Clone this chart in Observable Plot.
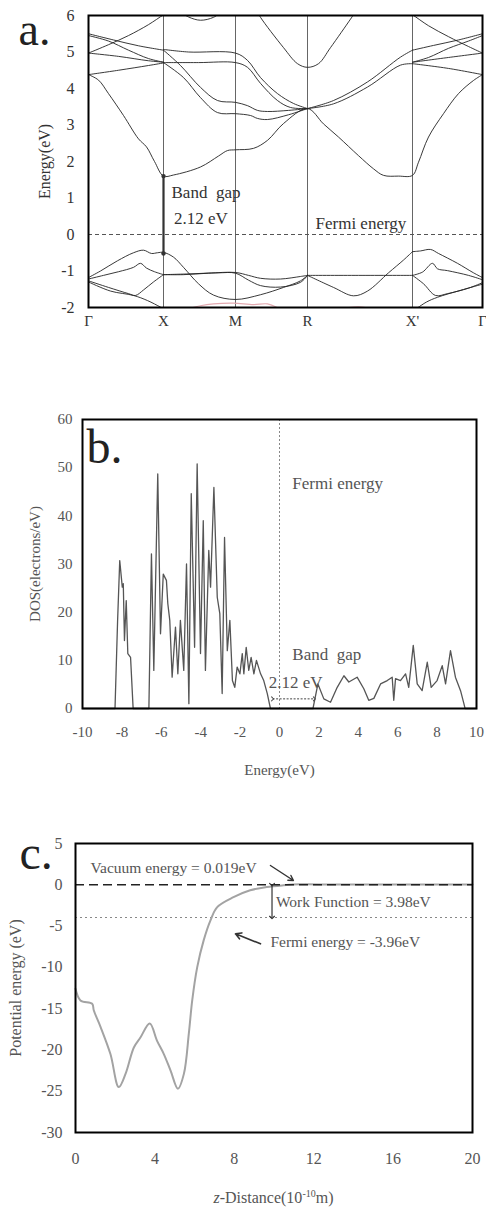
<!DOCTYPE html>
<html>
<head>
<meta charset="utf-8">
<script src="https://cdn.jsdelivr.net/npm/d3@7"></script>
<script src="https://cdn.jsdelivr.net/npm/@observablehq/plot@0.6"></script>
<style>
  body { margin: 0; background: #fff; }
  #page { position: relative; width: 486px; height: 1209px; overflow: hidden; background: #fff; }
  .panel { position: absolute; left: 0; }
  .xlabel { position: absolute; left: 75px; width: 397px; text-align: center;
            font-family: 'Liberation Serif','Times New Roman',serif; font-size: 16px; color: #555; line-height: 1; }
  .xlabel sup { font-size: 10px; vertical-align: 6px; }
</style>
</head>
<body>
<div id="page">
  <div id="pa" class="panel" style="top:0px"></div>
  <div id="pb" class="panel" style="top:380px"></div>
  <div id="pc" class="panel" style="top:820px"></div>
  <div class="xlabel" style="top:1189px"><i>z</i>-Distance(10<sup>-10</sup>m)</div>
</div>
<script>
const serif = "'Liberation Serif','Times New Roman',serif";

// ---------- (a) band structure ----------
const kTicks = [0, 0.75, 1.47, 2.19, 3.24, 3.94];
const kLabels = ["Γ", "X", "M", "R", "X'", "Γ"];
const energyTicksA = [-2, -1, 0, 1, 2, 3, 4, 5, 6];
const fermiA = 0;
const cbm = 1.6;       // conduction band minimum at X
const bandGap = 2.12;  // eV

// conduction bands, [k, E]
const cbLowest = [[0,4.38],[0.1,4.23],[0.2,3.86],[0.35,3.26],[0.5,2.62],[0.58,2.4],[0.66,2.0],[0.75,1.6],[0.85,1.63],[1.12,1.85],[1.3,2.15],[1.39,2.3],[1.47,2.32],[1.65,2.36],[1.79,2.58],[1.95,3.04],[2.19,3.45],[2.35,3.03],[2.5,2.67],[2.7,2.16],[2.85,1.8],[2.95,1.62],[3.1,1.6],[3.24,1.62],[3.3,1.98],[3.4,2.67],[3.55,3.31],[3.7,3.86],[3.85,4.22],[3.94,4.38]];
const cbRiseGX = [[0,4.97],[0.2,5.2],[0.4,5.45],[0.6,5.75],[0.75,6.02],[0.8,6.1]];
const cbRiseXG = [[3.19,6.1],[3.24,6.02],[3.4,5.72],[3.6,5.42],[3.8,5.15],[3.94,4.97]];
const cbArcXM = [[0.92,6.1],[1.0,5.96],[1.12,5.87],[1.25,5.95],[1.33,6.1]];
const cbParabolaR = [[1.69,6.1],[1.72,5.95],[1.95,5.12],[2.09,4.68],[2.19,4.58],[2.3,4.68],[2.42,5.12],[2.62,5.9],[2.67,6.1]];
const cbGX1 = [[0,5.5],[0.25,5.33],[0.5,5.17],[0.75,5.05]];
const cbGX2 = [[0,5.45],[0.2,5.3],[0.4,5.05],[0.6,4.82],[0.75,4.72]];
const cbGX3 = [[0,4.97],[0.3,4.88],[0.6,4.76],[0.75,4.72]];
const cbGX4 = [[0,4.38],[0.3,4.5],[0.6,4.63],[0.75,4.7]];
const cbA = [[0.75,5.05],[0.92,4.63],[1.12,4.03],[1.29,3.67],[1.47,3.62],[1.59,3.53],[1.69,3.4],[1.79,3.37],[2.0,3.4],[2.19,3.45]];
const cbB = [[0.75,4.71],[0.95,4.3],[1.12,3.75],[1.29,3.34],[1.47,3.31],[1.62,3.26],[1.69,3.18],[1.79,3.15],[2.0,3.28],[2.19,3.45]];
const cbF1 = [[0.75,5.07],[1.0,5.0],[1.47,4.97],[1.59,4.77],[1.72,4.3],[1.89,3.86],[2.05,3.59],[2.19,3.45]];
const cbF2 = [[0.75,4.71],[1.1,4.71],[1.47,4.71],[1.59,4.58],[1.72,4.14],[1.89,3.67],[2.02,3.48],[2.19,3.45]];
const cbG1 = [[2.19,3.45],[2.45,3.67],[2.79,4.18],[3.12,4.86],[3.24,5.05]];
const cbG2 = [[2.19,3.45],[2.45,3.58],[2.79,4.04],[3.12,4.64],[3.24,4.68]];
const cbXG1 = [[3.24,5.05],[3.45,5.18],[3.7,5.33],[3.94,5.5]];
const cbXG2 = [[3.24,4.72],[3.4,4.85],[3.6,5.1],[3.8,5.3],[3.94,5.45]];
const cbXG3 = [[3.24,4.72],[3.6,4.85],[3.94,4.97]];
const cbXG4 = [[3.24,4.68],[3.6,4.55],[3.94,4.38]];

// valence bands, [k, E]
const vbTop = [[0,-1.18],[0.12,-1.0],[0.29,-0.72],[0.45,-0.5],[0.55,-0.43],[0.63,-0.52],[0.69,-0.5],[0.75,-0.49],[0.85,-0.62],[0.95,-0.9],[1.1,-1.35],[1.25,-1.66],[1.47,-1.78],[1.72,-1.65],[1.95,-1.45],[2.12,-1.27],[2.19,-1.12]];
const vbGX2 = [[0,-1.22],[0.15,-1.12],[0.3,-1.02],[0.45,-0.9],[0.52,-0.79],[0.58,-0.92],[0.66,-1.02],[0.75,-1.1]];
const vbGX3 = [[0,-1.27],[0.2,-1.45],[0.4,-1.62],[0.47,-1.67],[0.55,-1.52],[0.65,-1.3],[0.75,-1.1]];
const vbGX4 = [[0,-1.3],[0.22,-1.55],[0.45,-1.67],[0.59,-1.81],[0.72,-1.99],[0.76,-2.05]];
const vbXR1 = [[0.75,-1.1],[0.95,-1.1],[1.2,-1.06],[1.47,-1.04],[1.6,-1.12],[1.72,-1.2],[1.92,-1.22],[2.12,-1.15],[2.19,-1.12]];
const vbXR2 = [[0.75,-1.1],[1.0,-1.08],[1.3,-1.05],[1.47,-1.06],[1.6,-1.25],[1.72,-1.4],[1.92,-1.44],[2.12,-1.31],[2.19,-1.12]];
const vbRX1 = [[2.19,-1.12],[2.7,-1.12],[3.24,-1.12]];
const vbRX2 = [[2.19,-1.12],[2.45,-1.45],[2.65,-1.68],[2.79,-1.55],[3.0,-1.05],[3.15,-0.7],[3.24,-0.47]];
const vbXG1 = [[3.24,-0.47],[3.32,-0.45],[3.42,-0.41],[3.5,-0.52],[3.69,-0.79],[3.85,-1.05],[3.94,-1.18]];
const vbXG2 = [[3.24,-1.12],[3.34,-1.03],[3.44,-0.79],[3.49,-0.94],[3.59,-0.99],[3.8,-1.12],[3.94,-1.24]];
const vbXG3 = [[3.24,-1.12],[3.35,-1.35],[3.47,-1.67],[3.59,-1.62],[3.8,-1.47],[3.94,-1.32]];
const vbXG4 = [[3.27,-2.05],[3.38,-1.85],[3.49,-1.72],[3.72,-1.53],[3.94,-1.36]];
// faint deep bands along the lower edge
const lowBand1 = [[0.98,-2.05],[1.12,-1.95],[1.25,-1.9],[1.45,-1.88],[1.65,-1.92],[1.79,-1.9],[1.9,-2.02]];
const lowBand2 = [[2.5,-2.05],[2.7,-1.98],[2.85,-2.05]];

const bandsA = [cbLowest, cbRiseGX, cbRiseXG, cbArcXM, cbParabolaR, cbGX1, cbGX2, cbGX3, cbGX4,
  cbA, cbB, cbF1, cbF2, cbG1, cbG2, cbXG1, cbXG2, cbXG3, cbXG4,
  vbTop, vbGX2, vbGX3, vbGX4, vbXR1, vbXR2, vbRX1, vbRX2, vbXG1, vbXG2, vbXG3, vbXG4];
const lowBands = [lowBand1, lowBand2];

const panelA = Plot.plot({
  width: 486, height: 340,
  marginLeft: 88, marginRight: 4, marginTop: 15, marginBottom: 33,
  style: {fontFamily: serif, fontSize: "16px", color: "#333", background: "transparent", overflow: "visible"},
  x: {domain: [0, 3.94]},
  y: {domain: [-2, 6]},
  marks: [
    Plot.ruleX(kTicks.slice(1, -1), {stroke: "#666", strokeWidth: 1}),
    Plot.ruleY([fermiA], {stroke: "#555", strokeWidth: 1, strokeDasharray: "4,3"}),
    ...lowBands.map(b => Plot.line(b, {stroke: "#e3a9b0", strokeWidth: 1.1, curve: "catmull-rom", clip: true})),
    ...bandsA.map(b => Plot.line(b, {stroke: "#222", strokeWidth: 0.9, curve: "catmull-rom", clip: true})),
    Plot.link([{k: kTicks[1], top: cbm, bottom: cbm - bandGap}], {x1: "k", x2: "k", y1: "top", y2: "bottom", stroke: "#333", strokeWidth: 2.2}),
    Plot.dot([cbm, cbm - bandGap], {x: () => kTicks[1], y: d => d, r: 2.2, fill: "#333"}),
    Plot.text([{k: 0.83, e: 1.15, t: "Band  gap"}, {k: 0.855, e: 0.45, t: "2.12 eV"}, {k: 2.27, e: 0.3, t: "Fermi energy"}],
      {x: "k", y: "e", text: "t", textAnchor: "start", lineAnchor: "middle", fontSize: 17, fill: "#333"}),
    Plot.text([{t: "a."}], {frameAnchor: "top-left", text: "t", dx: -70, dy: 15, fontSize: 46, textAnchor: "start", lineAnchor: "middle", fill: "#222"}),
    Plot.axisY({ticks: energyTicksA, tickSize: 0, tickPadding: 14, tickFormat: d => String(d), fontSize: 16,
      label: "Energy(eV)", labelAnchor: "center", labelOffset: 50, labelArrow: "none", color: "#333"}),
    Plot.axisX({ticks: kTicks, tickSize: 0, tickPadding: 8, tickFormat: (d, i) => kLabels[i], fontSize: 15, label: null, color: "#333"}),
    Plot.frame({stroke: "#000", strokeWidth: 2})
  ]
});
document.getElementById("pa").append(panelA);

// ---------- (b) density of states ----------
const dosTicksX = [-10, -8, -6, -4, -2, 0, 2, 4, 6, 8, 10];
const dosTicksY = [0, 10, 20, 30, 40, 50, 60];
const dosEnergy = [-10, -8.35, -8.22, -8.11, -7.98, -7.93, -7.87, -7.78, -7.7, -7.56, -7.43, -6.63, -6.5, -6.38, -6.18, -6.04, -5.9, -5.74, -5.67, -5.57, -5.45, -5.28, -5.16, -5.03, -4.86, -4.72, -4.6, -4.48, -4.31, -4.18, -4.01, -3.87, -3.76, -3.59, -3.5, -3.33, -3.16, -3.03, -2.91, -2.79, -2.65, -2.52, -2.39, -2.27, -2.15, -2.01, -1.89, -1.81, -1.69, -1.56, -1.44, -1.3, -1.17, -0.96, -0.8, -0.62, -0.46, 1.7, 1.95, 2.25, 2.59, 2.93, 3.27, 3.52, 3.94, 4.28, 4.53, 4.79, 5.13, 5.47, 5.72, 5.8, 5.89, 6.14, 6.4, 6.56, 6.79, 6.99, 7.24, 7.5, 7.7, 8.0, 8.26, 8.43, 8.68, 8.93, 9.19, 9.36, 9.42, 10];
const dosValue  = [0, 0, 18, 30.7, 25.2, 25.9, 14.1, 22.4, 11.4, 10.6, 0, 0, 32.1, 7.9, 48.7, 15.5, 27.9, 26.6, 21.8, 18.3, 6.5, 16.9, 7.2, 18.3, 7.9, 30.0, 1.0, 44.6, 12.7, 50.8, 11.4, 39.0, 7.9, 32.8, 25.2, 45.9, 23.1, 19.7, 3.1, 35.5, 12.0, 18.3, 5.8, 4.4, 8.6, 7.2, 11.4, 7.2, 12.7, 7.9, 10.6, 7.2, 10.0, 7.2, 5.8, 3.1, 0, 0, 5.1, 2.0, 1.3, 4.4, 6.8, 5.5, 6.5, 4.1, 1.7, 2.1, 5.1, 5.8, 6.5, 1.7, 6.2, 5.8, 7.2, 4.4, 13.1, 5.1, 3.7, 9.6, 4.4, 5.8, 8.9, 5.1, 12.0, 6.5, 3.7, 1.0, 0, 0];
const fermiB = 0;
const gapStartB = -0.35;

const panelB = Plot.plot({
  width: 486, height: 400,
  marginLeft: 82, marginRight: 10, marginTop: 39, marginBottom: 72,
  style: {fontFamily: serif, fontSize: "15px", color: "#555", background: "transparent", overflow: "visible"},
  x: {domain: [-10, 10]},
  y: {domain: [0, 60]},
  marks: [
    Plot.ruleX([fermiB], {stroke: "#888", strokeWidth: 1, strokeDasharray: "2,2"}),
    Plot.line(dosValue, {x: dosEnergy, y: dosValue, stroke: "#555", strokeWidth: 1.3}),
    Plot.link([{a: gapStartB, b: gapStartB + bandGap, y: 2.0}], {x1: "a", x2: "b", y1: "y", y2: "y",
      stroke: "#444", strokeWidth: 1, strokeDasharray: "2,1.5", markerStart: "arrow", markerEnd: "arrow"}),
    Plot.text([{e: 0.65, d: 46.7, t: "Fermi energy"}, {e: 0.65, d: 11.3, t: "Band  gap"}, {e: -0.55, d: 5.3, t: "2.12 eV"}],
      {x: "e", y: "d", text: "t", textAnchor: "start", lineAnchor: "middle", fontSize: 17, fill: "#555"}),
    Plot.text([{t: "b."}], {frameAnchor: "top-left", text: "t", dx: 4, dy: 28, fontSize: 48, textAnchor: "start", lineAnchor: "middle", fill: "#222"}),
    Plot.axisY({ticks: dosTicksY, tickSize: 0, tickPadding: 10, tickFormat: d => String(d), fontSize: 15,
      label: "DOS(electrons/eV)", labelAnchor: "center", labelOffset: 53, labelArrow: "none"}),
    Plot.axisX({ticks: dosTicksX, tickSize: 0, tickPadding: 18, tickFormat: d => String(d), fontSize: 15,
      label: "Energy(eV)", labelAnchor: "center", labelOffset: 66, labelArrow: "none"}),
    Plot.frame({stroke: "#000", strokeWidth: 2})
  ]
});
document.getElementById("pb").append(panelB);

// ---------- (c) planar-averaged potential ----------
const zTicks = [0, 4, 8, 12, 16, 20];
const potentialTicks = [5, 0, -5, -10, -15, -20, -25, -30];
const zDistance = [0, 0.25, 0.84, 0.92, 1.26, 1.76, 2.18, 2.52, 2.94, 3.27, 3.74, 4.11, 4.45, 4.79, 5.16, 5.46, 5.71, 5.88, 6.13, 6.46, 6.8, 7.14, 7.96, 8.8, 9.64, 10.48, 11.3, 13, 15, 17.5, 20];
const potential = [-12.6, -14.0, -14.4, -15.2, -17.2, -20.5, -24.5, -22.9, -19.7, -18.5, -16.8, -18.9, -20.5, -22.5, -24.7, -22.9, -18.0, -14.0, -10.0, -6.7, -4.3, -2.7, -1.5, -0.67, -0.26, -0.06, 0.05, 0.03, 0.02, 0.02, 0.02];
const vacuumEnergy = 0.019;
const fermiC = -3.96;
const workFunctionZ = 9.9;

const panelC = Plot.plot({
  width: 486, height: 389,
  marginLeft: 75, marginRight: 14, marginTop: 23, marginBottom: 77,
  style: {fontFamily: serif, fontSize: "16px", color: "#555", background: "transparent", overflow: "visible"},
  x: {domain: [0, 20]},
  y: {domain: [-30, 5]},
  marks: [
    Plot.ruleY([fermiC], {stroke: "#888", strokeWidth: 1.2, strokeDasharray: "2,3"}),
    Plot.line(potential, {x: zDistance, y: potential, stroke: "#a3a3a3", strokeWidth: 2, curve: "catmull-rom"}),
    Plot.ruleY([vacuumEnergy], {stroke: "#222", strokeWidth: 1.5, strokeDasharray: "9,5"}),
    Plot.link([{z: workFunctionZ, a: vacuumEnergy, b: fermiC}], {x1: "z", x2: "z", y1: "a", y2: "b",
      stroke: "#333", strokeWidth: 1.2, markerStart: "arrow", markerEnd: "arrow"}),
    Plot.arrow([{x1: 9.82, y1: 2.34, x2: 10.98, y2: 0.52}], {x1: "x1", y1: "y1", x2: "x2", y2: "y2",
      stroke: "#333", strokeWidth: 1.4, headLength: 6, bend: false}),
    Plot.arrow([{x1: 9.32, y1: -7.15, x2: 8.06, y2: -5.94}], {x1: "x1", y1: "y1", x2: "x2", y2: "y2",
      stroke: "#333", strokeWidth: 1.6, headLength: 6, bend: false}),
    Plot.text([{z: 0.76, v: 1.97, t: "Vacuum energy = 0.019eV"}, {z: 10.1, v: -2.1, t: "Work Function = 3.98eV"}, {z: 9.82, v: -6.95, t: "Fermi energy = -3.96eV"}],
      {x: "z", y: "v", text: "t", textAnchor: "start", lineAnchor: "middle", fontSize: 15.5, fill: "#555"}),
    Plot.text([{t: "c."}], {frameAnchor: "top-left", text: "t", dx: -56, dy: 10, fontSize: 48, textAnchor: "start", lineAnchor: "middle", fill: "#222"}),
    Plot.axisY({ticks: potentialTicks, tickSize: 0, tickPadding: 13, tickFormat: d => String(d), fontSize: 16,
      label: "Potential energy (eV)", labelAnchor: "center", labelOffset: 66, labelArrow: "none"}),
    Plot.axisX({ticks: zTicks, tickSize: 0, tickPadding: 20, tickFormat: d => String(d), fontSize: 16, label: null}),
    Plot.frame({stroke: "#000", strokeWidth: 2})
  ]
});
document.getElementById("pc").append(panelC);
</script>
</body>
</html>
